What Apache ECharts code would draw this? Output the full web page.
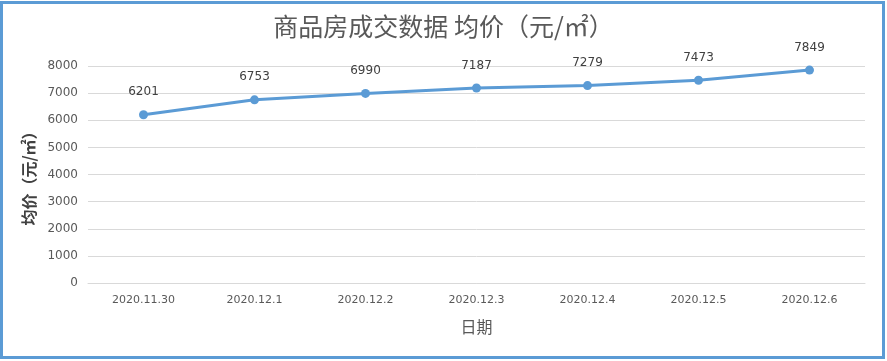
<!DOCTYPE html>
<html><head><meta charset="utf-8">
<script src="https://cdn.jsdelivr.net/npm/echarts@6/dist/echarts.min.js"></script>
<style>html,body{margin:0;padding:0;background:#fff}#c{width:887px;height:361px}</style>
</head><body><div id="c"></div>
<script>
const categories = ['2020.11.30','2020.12.1','2020.12.2','2020.12.3','2020.12.4','2020.12.5','2020.12.6'];
const avgPrice = [6201, 6753, 6990, 7187, 7279, 7473, 7849];
const yTicks = {min: 0, max: 8000, interval: 1000};

const chart = echarts.init(document.getElementById('c'));
const font = '"Noto Sans CJK SC", "Noto Sans", sans-serif';
const numFont = '"DejaVu Sans", sans-serif';
chart.setOption({
  animation: false,
  graphic: [{
    type: 'rect', shape: {x: 1.5, y: 2.5, width: 882, height: 355},
    style: {fill: 'none', stroke: '#5B9BD5', lineWidth: 3}, silent: true
  }],
  title: {
    text: '商品房成交数据 均价（元/㎡）', left: 'center', top: 9,
    textStyle: {fontFamily: font, fontSize: 25, fontWeight: 'normal', color: '#595959'}
  },
  grid: {left: 88, right: 22, top: 66, bottom: 78},
  xAxis: {
    type: 'category', data: categories, boundaryGap: true,
    name: '日期', nameLocation: 'middle', nameGap: 36,
    nameTextStyle: {fontFamily: font, fontSize: 16, color: '#595959'},
    axisLine: {show: true, lineStyle: {color: '#d9d9d9'}},
    axisTick: {show: false},
    axisLabel: {fontFamily: numFont, fontSize: 11, color: '#595959', margin: 12}
  },
  yAxis: {
    type: 'value', min: yTicks.min, max: yTicks.max, interval: yTicks.interval,
    name: '均价（元/㎡）', nameLocation: 'middle', nameGap: 45, nameRotate: 90,
    nameTextStyle: {fontFamily: font, fontSize: 16, fontWeight: 'bold', color: '#404040'},
    axisLine: {show: false}, axisTick: {show: false},
    axisLabel: {fontFamily: numFont, fontSize: 12, color: '#595959', margin: 10, formatter: v => String(v)},
    splitLine: {lineStyle: {color: '#d9d9d9', width: 1}}
  },
  series: [{
    type: 'line', data: avgPrice,
    lineStyle: {color: '#5B9BD5', width: 3},
    itemStyle: {color: '#5B9BD5'},
    symbol: 'circle', symbolSize: 9,
    label: {show: true, position: 'top', distance: 12, fontFamily: numFont, fontSize: 12, color: '#404040'}
  }]
});
</script></body></html>
